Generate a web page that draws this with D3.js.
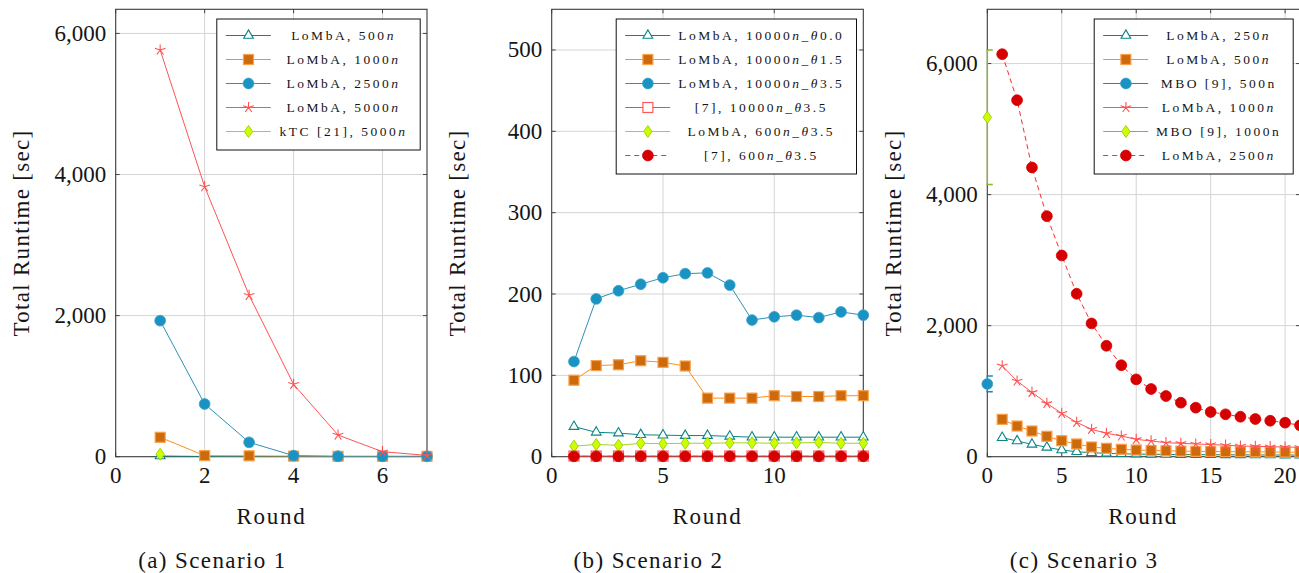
<!DOCTYPE html>
<html>
<head>
<meta charset="utf-8">
<script src="https://cdn.jsdelivr.net/npm/d3@7"></script>
<style>
  html, body { margin: 0; padding: 0; background: #fff; overflow: hidden; }
  svg { display: block; background: #fff; }
</style>
</head>
<body>
<svg id="chart" width="1299" height="573"></svg>
<script>
// Scenario 1 — total runtime per round
const s1Rounds = [1, 2, 3, 4, 5, 6, 7];
const s1Lomba500 = [10, 3, 2, 2, 2, 2, 2];
const s1Lomba1000 = [275, 15, 12, 8, 6, 5, 5];
const s1Lomba2500 = [1928, 747, 204, 15, 5, 5, 5];
const s1Lomba5000 = [5765, 3827, 2288, 1026, 307, 71, 18];
const s1KtcRounds = [1];
const s1Ktc5000 = [35];

// Scenario 2
const s2Rounds = [1, 2, 3, 4, 5, 6, 7, 8, 9, 10, 11, 12, 13, 14];
const s2LombaT00 = [37, 30, 29, 27, 26.5, 26, 26, 25, 24, 24, 24, 24, 24, 24];
const s2LombaT15 = [94, 112, 113, 118, 116, 111.5, 72, 72, 72, 75, 74, 74, 75, 75];
const s2LombaT35 = [117, 194, 204, 212, 220, 225, 226, 211, 168, 172, 174, 171, 178, 174];
const s2Ref7T35 = [0.8, 0.8, 0.8, 0.8, 0.8, 0.8, 0.8, 0.8, 0.8, 0.8, 0.8, 0.8, 0.8, 0.8];
const s2Lomba600 = [13, 15, 14, 16.5, 16, 16.5, 16.5, 17, 17, 16.5, 17, 17.5, 16.5, 16.5];
const s2Ref7600 = [0.5, 0.5, 0.5, 0.5, 0.5, 0.5, 0.5, 0.5, 0.5, 0.5, 0.5, 0.5, 0.5, 0.5];

// Scenario 3
const s3Rounds = d3.range(1, 22);
const s3Lomba250 = [290, 240, 189, 143, 102, 76, 61, 51, 45, 40, 37, 35, 33, 31, 30, 29, 28, 27, 26, 25, 25];
const s3Lomba500 = [570, 468, 392, 311, 244, 194, 148, 128, 113, 102, 95, 90, 86, 82, 80, 78, 76, 74, 72, 70, 68];
const s3Lomba1000 = [1388, 1155, 982, 814, 662, 525, 418, 357, 316, 265, 240, 214, 204, 194, 185, 176, 163, 158, 153, 148, 143];
const s3Lomba2500 = [6143, 5441, 4414, 3671, 3071, 2487, 2034, 1693, 1396, 1180, 1033, 926, 824, 748, 682, 647, 610, 575, 549, 519, 479];
const s3MboRounds = [0];
const s3Mbo500 = [1110];
const s3Mbo500Err = [120];
const s3Mbo1000 = [5180];
const s3Mbo1000Err = [1025];

// colours
const teal = "#0b8585", orange = "#ff8c1a", blue = "#2f8fb8", red = "#ff5252",
      lime = "#a6d41c", darkRed = "#d60000";

const sq = {marker: "square", fill: "#cc6a0c", mstroke: "#fba04a", line: orange};
const tri = {marker: "triangle", fill: "#fff", mstroke: teal, line: teal};
const circ = {marker: "circle", fill: "#1b93c2", mstroke: "#3aa2cc", line: blue};
const star = {marker: "star", fill: "none", mstroke: red, line: red};
const dia = {marker: "diamond", fill: "#ccff00", mstroke: "#9ccc00", line: lime};
const redDot = {marker: "circle", fill: darkRed, mstroke: darkRed, line: "#ff2a2a", dash: "5,3.5"};
const openSq = {marker: "opensquare", fill: "#fff", mstroke: "#ff5a5a", line: "#ff4444"};

const serif = "'Liberation Serif', 'Times New Roman', serif";
const frameTop = 9.3, frameBottom = 456.7, panelWidth = 311.5;

const panels = [
  {
    left: 115.7, right: 427, xMax: 7, yMax: 6342,
    xTicks: [0, 2, 4, 6], yTicks: [0, 2000, 4000, 6000],
    caption: "(a) Scenario 1", legendWidth: 203.4,
    series: [
      {x: s1Rounds, y: s1Lomba500, label: "LoMbA, 500$n$", ...tri},
      {x: s1Rounds, y: s1Lomba1000, label: "LoMbA, 1000$n$", ...sq},
      {x: s1Rounds, y: s1Lomba2500, label: "LoMbA, 2500$n$", ...circ},
      {x: s1Rounds, y: s1Lomba5000, label: "LoMbA, 5000$n$", ...star},
      {x: s1KtcRounds, y: s1Ktc5000, label: "kTC [21], 5000$n$", ...dia}
    ]
  },
  {
    left: 551.7, right: 863.3, xMax: 14, yMax: 550,
    xTicks: [0, 5, 10], yTicks: [0, 100, 200, 300, 400, 500],
    caption: "(b) Scenario 2", legendWidth: 240.3,
    series: [
      {x: s2Rounds, y: s2LombaT00, label: "LoMbA, 10000$n$_$θ$0.0", ...tri},
      {x: s2Rounds, y: s2LombaT15, label: "LoMbA, 10000$n$_$θ$1.5", ...sq},
      {x: s2Rounds, y: s2LombaT35, label: "LoMbA, 10000$n$_$θ$3.5", ...circ},
      {x: s2Rounds, y: s2Ref7T35, label: "[7], 10000$n$_$θ$3.5", ...openSq},
      {x: s2Rounds, y: s2Lomba600, label: "LoMbA, 600$n$_$θ$3.5", ...dia},
      {x: s2Rounds, y: s2Ref7600, label: "[7], 600$n$_$θ$3.5", ...redDot}
    ]
  },
  {
    left: 987.3, right: 1300, xMax: 21, yMax: 6828,
    xTicks: [0, 5, 10, 15, 20], yTicks: [0, 2000, 4000, 6000],
    caption: "(c) Scenario 3", legendWidth: 199,
    series: [
      {x: s3Rounds, y: s3Lomba250, label: "LoMbA, 250$n$", ...tri},
      {x: s3Rounds, y: s3Lomba500, label: "LoMbA, 500$n$", ...sq},
      {x: s3MboRounds, y: s3Mbo500, err: s3Mbo500Err, label: "MBO [9], 500n", ...circ, line: "#1f86b0"},
      {x: s3Rounds, y: s3Lomba1000, label: "LoMbA, 1000$n$", ...star},
      {x: s3MboRounds, y: s3Mbo1000, err: s3Mbo1000Err, label: "MBO [9], 1000n", ...dia, line: "#8ab81e"},
      {x: s3Rounds, y: s3Lomba2500, label: "LoMbA, 2500$n$", ...redDot}
    ]
  }
];

const svg = d3.select("#chart");

// draws one marker glyph centred on (0,0) inside g
const drawMarker = (g, s) => {
  if (s.marker === "square" || s.marker === "opensquare") {
    g.append("rect").attr("x", -5).attr("y", -5).attr("width", 10).attr("height", 10)
      .attr("fill", s.fill).attr("stroke", s.mstroke).attr("stroke-width", 1.2);
  } else if (s.marker === "circle") {
    g.append("circle").attr("r", 5.4).attr("fill", s.fill)
      .attr("stroke", s.mstroke).attr("stroke-width", 0.8);
  } else if (s.marker === "triangle") {
    g.append("path").attr("d", "M0,-5.6L4.85,2.8L-4.85,2.8Z")
      .attr("fill", s.fill).attr("stroke", s.mstroke).attr("stroke-width", 1.1);
  } else if (s.marker === "diamond") {
    g.append("path").attr("d", "M0,-6L4.2,0L0,6L-4.2,0Z")
      .attr("fill", s.fill).attr("stroke", s.mstroke).attr("stroke-width", 0.9);
  } else if (s.marker === "star") {
    const spokes = d3.range(5).map(k => {
      const a = -Math.PI / 2 + k * 2 * Math.PI / 5;
      return `M0,0L${(5.6 * Math.cos(a)).toFixed(2)},${(5.6 * Math.sin(a)).toFixed(2)}`;
    }).join("");
    g.append("path").attr("d", spokes).attr("fill", "none")
      .attr("stroke", s.mstroke).attr("stroke-width", 1.1);
  }
};

// "$...$" parts are set in italics, like the TeX source
const richText = (textSel, label) => {
  label.split("$").forEach((part, i) => {
    if (!part) return;
    textSel.append("tspan").text(part).style("font-style", i % 2 ? "italic" : "normal");
  });
};

// serif text helper
const addText = (sel, size, spacing) => sel.append("text")
  .style("font-family", serif).style("font-size", `${size}px`)
  .style("letter-spacing", `${spacing}px`).attr("fill", "#151515");

panels.forEach((p, pi) => {
  const x = d3.scaleLinear([0, p.xMax], [p.left, p.right]);
  const y = d3.scaleLinear([0, p.yMax], [frameBottom, frameTop]);
  const g = svg.append("g").attr("class", `panel-${pi}`);
  const clipId = `clip-${pi}`;
  svg.append("defs").append("clipPath").attr("id", clipId)
    .append("rect").attr("x", p.left - 0.8).attr("y", frameTop)
    .attr("width", p.right - p.left + 0.8).attr("height", frameBottom - frameTop);

  // grid
  g.append("g").selectAll("line").data(p.xTicks.filter(t => t > 0)).join("line")
    .attr("x1", d => x(d)).attr("x2", d => x(d))
    .attr("y1", frameTop).attr("y2", frameBottom)
    .attr("stroke", "#d4d4d4").attr("stroke-width", 1);
  g.append("g").selectAll("line").data(p.yTicks.filter(t => t > 0)).join("line")
    .attr("x1", p.left).attr("x2", p.right)
    .attr("y1", d => y(d)).attr("y2", d => y(d))
    .attr("stroke", "#d4d4d4").attr("stroke-width", 1);

  // inward ticks on all four sides
  const tk = g.append("g").attr("stroke", "#444").attr("stroke-width", 1);
  p.xTicks.forEach(t => {
    tk.append("line").attr("x1", x(t)).attr("x2", x(t)).attr("y1", frameBottom).attr("y2", frameBottom - 4);
    tk.append("line").attr("x1", x(t)).attr("x2", x(t)).attr("y1", frameTop).attr("y2", frameTop + 4);
  });
  p.yTicks.forEach(t => {
    tk.append("line").attr("x1", p.left).attr("x2", p.left + 4).attr("y1", y(t)).attr("y2", y(t));
    tk.append("line").attr("x1", p.right).attr("x2", p.right - 4).attr("y1", y(t)).attr("y2", y(t));
  });

  // frame
  g.append("rect").attr("x", p.left).attr("y", frameTop)
    .attr("width", p.right - p.left).attr("height", frameBottom - frameTop)
    .attr("fill", "none").attr("stroke", "#3a3a3a").attr("stroke-width", 1.1);

  // tick labels
  const fmt = d3.format(",");
  p.xTicks.forEach(t => addText(g, 23, 0).attr("text-anchor", "middle")
    .attr("x", x(t)).attr("y", 482.5).text(t));
  p.yTicks.forEach(t => addText(g, 23, 0).attr("text-anchor", "end")
    .attr("x", p.left - 9.5).attr("y", y(t) + 7.5).text(fmt(t)));

  // data
  const line = d3.line();
  const plot = g.append("g");
  p.series.forEach(s => {
    const pts = s.x.map((v, i) => [x(v), y(s.y[i])]);
    const sg = plot.append("g");
    if (pts.length > 1) {
      sg.append("path").attr("d", line(pts)).attr("fill", "none")
        .attr("stroke", s.line).attr("stroke-width", 1)
        .attr("stroke-dasharray", s.dash || null)
        .attr("clip-path", `url(#${clipId})`);
    }
    if (s.err) {
      const eg = sg.append("g").attr("clip-path", `url(#${clipId})`)
        .attr("stroke", s.line).attr("stroke-width", 1.5);
      s.x.forEach((v, i) => {
        const cx = x(v), top = y(s.y[i] + s.err[i]), bot = y(s.y[i] - s.err[i]);
        eg.append("line").attr("x1", cx).attr("x2", cx).attr("y1", top).attr("y2", bot);
        eg.append("line").attr("x1", cx - 5.5).attr("x2", cx + 5.5).attr("y1", top).attr("y2", top);
        eg.append("line").attr("x1", cx - 5.5).attr("x2", cx + 5.5).attr("y1", bot).attr("y2", bot);
      });
    }
    pts.forEach(pt => drawMarker(sg.append("g").attr("transform", `translate(${pt[0]},${pt[1]})`), s));
  });

  // legend
  const lw = p.legendWidth, lx = p.right - 6.8 - lw, ly = 19;
  const lh = p.series.length * 24 + 11;
  const lg = g.append("g");
  lg.append("rect").attr("x", lx).attr("y", ly).attr("width", lw).attr("height", lh)
    .attr("fill", "#fff").attr("stroke", "#111").attr("stroke-width", 1);
  p.series.forEach((s, i) => {
    const cy = ly + 16.5 + i * 24;
    lg.append("line").attr("x1", lx + 9).attr("x2", lx + 54).attr("y1", cy).attr("y2", cy)
      .attr("stroke", s.line).attr("stroke-width", 1.2)
      .attr("stroke-dasharray", s.dash ? "5,4" : null);
    drawMarker(lg.append("g").attr("transform", `translate(${lx + 31.7},${cy})`), s);
    const t = addText(lg, 13.5, 2.5).attr("text-anchor", "middle")
      .attr("x", (lx + 54 + lx + lw) / 2 - 2).attr("y", cy + 4.8);
    richText(t, s.label);
  });

  // axis titles and caption
  const cx = p.left + panelWidth / 2;
  addText(g, 23, 1.7).attr("text-anchor", "middle")
    .attr("x", cx).attr("y", 523.5).text("Round");
  addText(g, 23, 1.3).attr("text-anchor", "middle")
    .attr("transform", `translate(${p.left - 86.7},${(frameTop + frameBottom) / 2}) rotate(-90)`)
    .text("Total Runtime [sec]");
  addText(g, 23, 1.4).attr("text-anchor", "middle")
    .attr("x", cx - 59).attr("y", 567.5).text(p.caption);
});
</script>
</body>
</html>
